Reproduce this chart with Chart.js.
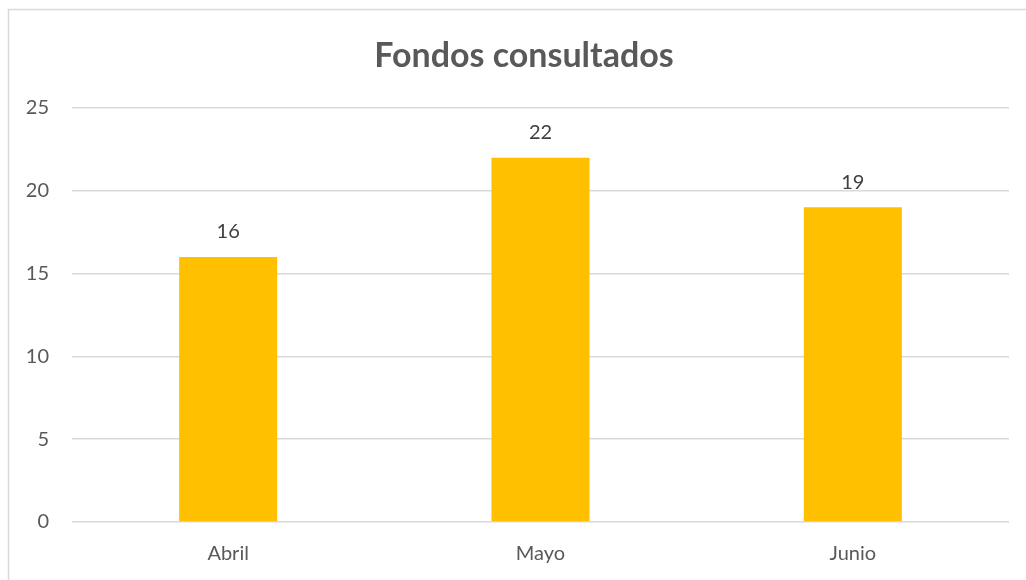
<!DOCTYPE html>
<html><head><meta charset="utf-8">
<script src="https://cdn.jsdelivr.net/npm/chart.js@4"></script>
<style>html,body{margin:0;padding:0;background:#fff;}#wrap{width:1026px;height:580px;position:relative;}</style>
</head><body><div id="wrap"><canvas id="c" width="1026" height="580"></canvas></div>
<script>
const categories = ["Abril", "Mayo", "Junio"];
const values = [16, 22, 19];
const yTicks = [0, 5, 10, 15, 20, 25];
const titleText = "Fondos consultados";

const FONT = "Lato, 'Open Sans', sans-serif";

const frame = {
  id: 'frame',
  beforeDraw(chart) {
    const ctx = chart.ctx;
    ctx.save();
    ctx.fillStyle = '#fff';
    ctx.fillRect(0, 0, chart.width, chart.height);
    ctx.strokeStyle = '#D9D9D9';
    ctx.lineWidth = 1.5;
    ctx.strokeRect(8.5, 9.5, chart.width + 20, chart.height + 20);
    ctx.fillStyle = '#595959';
    ctx.font = "bold 34px " + FONT;
    ctx.textAlign = 'center';
    ctx.textBaseline = 'middle';
    ctx.fillText(titleText, 524, 56);
    ctx.restore();
  }
};
const labels = {
  id: 'labels',
  afterDatasetsDraw(chart) {
    const ctx = chart.ctx;
    const meta = chart.getDatasetMeta(0);
    ctx.save();
    ctx.fillStyle = '#404040';
    ctx.font = "20px " + FONT;
    ctx.textAlign = 'center';
    ctx.textBaseline = 'middle';
    meta.data.forEach((bar, i) => {
      ctx.fillText(String(chart.data.datasets[0].data[i]), bar.x, bar.y - 25);
    });
    ctx.restore();
  }
};

new Chart(document.getElementById('c'), {
  type: 'bar',
  data: { labels: categories, datasets: [{ data: values, backgroundColor: '#FFC000', categoryPercentage: 1, barPercentage: 0.314 }] },
  options: {
    responsive: false, animation: false,
    layout: { padding: { left: 0, right: 17, top: 108, bottom: 2 } },
    plugins: { legend: { display: false }, tooltip: { enabled: false }, title: { display: false } },
    scales: {
      x: { grid: { display: false }, border: { display: false },
           ticks: { color: '#595959', font: { family: FONT, size: 20 }, padding: 12 } },
      y: { min: 0, max: 25, afterFit(a) { a.width = 72; },
           afterBuildTicks(a) { a.ticks = yTicks.map(v => ({ value: v })); },
           grid: { color: '#D9D9D9', lineWidth: 1.5, drawTicks: false },
           border: { display: false },
           ticks: { color: '#595959', font: { family: FONT, size: 20 }, padding: 23 } }
    }
  },
  plugins: [frame, labels]
});
</script></body></html>
